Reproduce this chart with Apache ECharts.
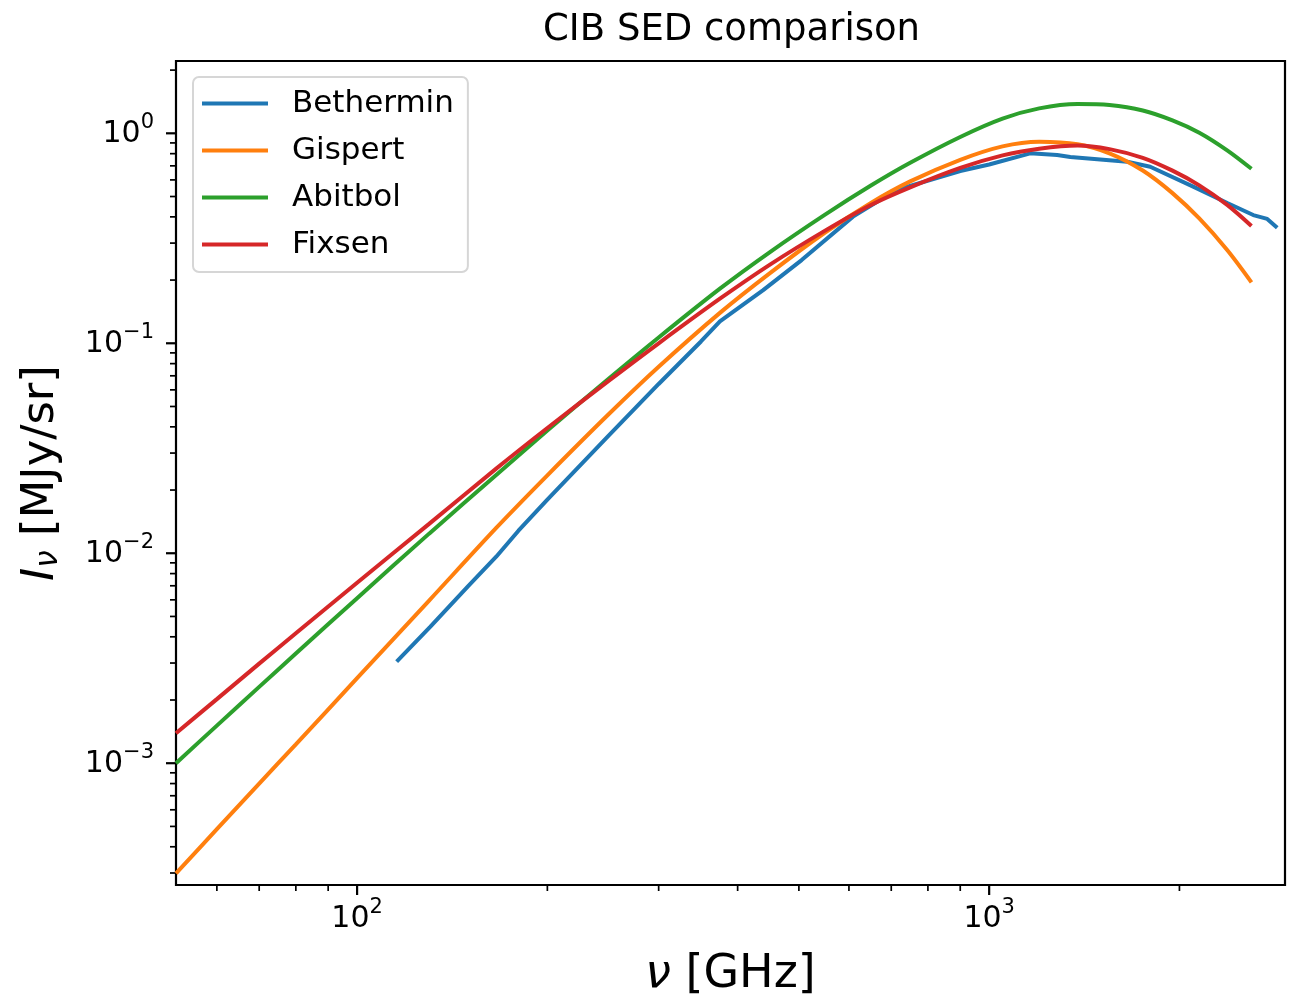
<!DOCTYPE html>
<html>
<head>
<meta charset="utf-8">
<script src="https://cdn.jsdelivr.net/npm/echarts@6/dist/echarts.min.js"></script>
<style>
html, body { margin: 0; padding: 0; background: #fff; }
#sed-chart { width: 1298px; height: 996px; }
</style>
</head>
<body>
<div id="sed-chart"></div>
<script>
//CIB SED comparison

var nuModel = [51.7, 60, 70, 80, 100, 130, 166, 200, 250, 300, 375, 450, 550, 650, 750, 900, 1050, 1200, 1380, 1550, 1750, 1950, 2150, 2380, 2600];
var gispert = [2.99e-4, 4.85e-4, 8.0e-4, 1.23e-3, 2.54e-3, 5.95e-3, 1.32e-2, 2.35e-2, 4.59e-2, 7.73e-2, 0.1396, 0.216, 0.337, 0.466, 0.590, 0.748, 0.867, 0.912, 0.887, 0.803, 0.665, 0.519, 0.393, 0.278, 0.195];
var abitbol = [1.0e-3, 1.51e-3, 2.31e-3, 3.33e-3, 6.11e-3, 1.24e-2, 2.36e-2, 3.84e-2, 6.78e-2, 0.1066, 0.182, 0.272, 0.410, 0.564, 0.724, 0.961, 1.175, 1.315, 1.380, 1.365, 1.285, 1.153, 1.007, 0.830, 0.678];
var fixsen = [1.39e-3, 2.02e-3, 2.98e-3, 4.16e-3, 7.24e-3, 1.38e-2, 2.53e-2, 3.95e-2, 6.62e-2, 0.100, 0.163, 0.237, 0.344, 0.456, 0.553, 0.684, 0.785, 0.845, 0.875, 0.841, 0.764, 0.664, 0.565, 0.456, 0.362];

var nuBethermin = [115.5, 130.5, 150, 166, 180, 200, 250, 300, 350, 375, 439, 505, 609, 713, 900, 1000, 1161, 1281, 1344, 1654, 1798, 2103, 2381, 2617, 2754, 2856];
var bethermin = [3.05e-3, 4.46e-3, 6.99e-3, 9.63e-3, 1.28e-2, 1.80e-2, 3.63e-2, 6.40e-2, 0.102, 0.127, 0.179, 0.249, 0.401, 0.537, 0.661, 0.71, 0.803, 0.788, 0.771, 0.732, 0.693, 0.557, 0.466, 0.408, 0.391, 0.355];

var xMajorTicks = [100, 1000];
var xMinorTicks = [60, 70, 80, 90, 200, 300, 400, 500, 600, 700, 800, 900, 2000];
var yMajorTicks = [1e-3, 1e-2, 1e-1, 1];
var yMinorTicks = [3e-4, 4e-4, 5e-4, 6e-4, 7e-4, 8e-4, 9e-4,
    2e-3, 3e-3, 4e-3, 5e-3, 6e-3, 7e-3, 8e-3, 9e-3,
    2e-2, 3e-2, 4e-2, 5e-2, 6e-2, 7e-2, 8e-2, 9e-2,
    0.2, 0.3, 0.4, 0.5, 0.6, 0.7, 0.8, 0.9, 2];

var xMin = 51.7, xMax = 2938;
var yMin = 2.63e-4, yMax = 2.21;

var font = 'DejaVu Sans';

function zip(xs, ys) {
    var out = [];
    for (var i = 0; i < xs.length; i++) out.push([xs[i], ys[i]]);
    return out;
}

// 10^n labels, only on whole decades
function powerLabel(value) {
    var p = Math.log10(value);
    if (Math.abs(p - Math.round(p)) > 1e-6) return '';
    p = Math.round(p);
    return '{b|10}{s|' + String(p).replace('-', '\u2212') + '}';
}

var labelRich = {
    b: { fontFamily: font, fontSize: 30, color: '#000', lineHeight: 31, verticalAlign: 'bottom' },
    s: { fontFamily: font, fontSize: 21, color: '#000', lineHeight: 21, padding: [0, 0, 16, 0], verticalAlign: 'bottom' }
};

function tickItems(major, minor) {
    var out = [];
    major.forEach(function (v) { out.push([v, 1]); });
    minor.forEach(function (v) { out.push([v, 0]); });
    return out;
}

var sed_chart = echarts.init(document.getElementById('sed-chart'));
var sed_chartOption = {
    backgroundColor: '#fff',
    animation: false,
    color: ['#1f77b4', '#ff7f0e', '#2ca02c', '#d62728'],
    title: {
        text: 'CIB SED comparison',
        left: 543,
        top: 12,
        padding: 0,
        textStyle: { fontFamily: font, fontSize: 37, fontWeight: 'normal', color: '#000' }
    },
    legend: {
        data: ['Bethermin', 'Gispert', 'Abitbol', 'Fixsen'],
        orient: 'vertical',
        left: 193,
        top: 77,
        padding: [11, 14, 12, 9],
        itemGap: 16,
        itemWidth: 66,
        itemHeight: 4,
        icon: 'rect',
        backgroundColor: 'rgba(255,255,255,0.8)',
        borderColor: '#d6d6d6',
        borderWidth: 2,
        borderRadius: 6,
        textStyle: { fontFamily: font, fontSize: 31, color: '#000', padding: [0, 0, 0, 19] }
    },
    grid: {
        left: 176,
        right: 13,
        top: 61,
        bottom: 111,
        show: true,
        borderColor: '#000',
        borderWidth: 2.2,
        containLabel: false,
        outerBoundsMode: 'none'
    },
    xAxis: {
        type: 'log',
        logBase: 10,
        min: xMin,
        max: xMax,
        name: '{nu|\u03bd}{n| [GHz]}',
        nameLocation: 'middle',
        nameGap: 67,
        nameTextStyle: {
            rich: {
                nu: { fontFamily: font, fontSize: 46, fontStyle: 'italic', color: '#000' },
                n: { fontFamily: font, fontSize: 46, color: '#000' }
            }
        },
        axisLine: { show: false },
        axisTick: { show: false },
        splitLine: { show: false },
        axisLabel: {
            margin: 18,
            showMinLabel: false,
            showMaxLabel: false,
            formatter: powerLabel,
            rich: labelRich
        }
    },
    yAxis: {
        type: 'log',
        logBase: 10,
        min: yMin,
        max: yMax,
        name: '{i|I}{sub|\u03bd}{n| [MJy/sr]}',
        nameLocation: 'middle',
        nameGap: 112,
        nameTextStyle: {
            rich: {
                i: { fontFamily: font, fontSize: 45, fontStyle: 'italic', color: '#000', lineHeight: 50, verticalAlign: 'bottom' },
                sub: { fontFamily: font, fontSize: 31, fontStyle: 'italic', color: '#000', lineHeight: 31, verticalAlign: 'bottom' },
                n: { fontFamily: font, fontSize: 45, color: '#000', lineHeight: 50, verticalAlign: 'bottom' }
            }
        },
        axisLine: { show: false },
        axisTick: { show: false },
        splitLine: { show: false },
        axisLabel: {
            margin: 22,
            showMinLabel: false,
            showMaxLabel: false,
            formatter: powerLabel,
            rich: labelRich
        }
    },
    series: [
        {
            name: 'Bethermin',
            type: 'line',
            symbol: 'none',
            lineStyle: { width: 4 },
            data: zip(nuBethermin, bethermin)
        },
        {
            name: 'Gispert',
            type: 'line',
            symbol: 'none',
            smooth: 0.3,
            lineStyle: { width: 4 },
            data: zip(nuModel, gispert)
        },
        {
            name: 'Abitbol',
            type: 'line',
            symbol: 'none',
            smooth: 0.3,
            lineStyle: { width: 4 },
            data: zip(nuModel, abitbol)
        },
        {
            name: 'Fixsen',
            type: 'line',
            symbol: 'none',
            smooth: 0.3,
            lineStyle: { width: 4 },
            data: zip(nuModel, fixsen)
        },
        // tick marks, placed through the axis scales
        {
            name: 'xticks',
            type: 'custom',
            silent: true,
            clip: false,
            data: tickItems(xMajorTicks, xMinorTicks).map(function (t) { return [t[0], yMin, t[1]]; }),
            renderItem: function (params, api) {
                var p = api.coord([api.value(0), yMin]);
                var major = api.value(2) === 1;
                return {
                    type: 'line',
                    shape: { x1: p[0], y1: p[1], x2: p[0], y2: p[1] + (major ? 10 : 6) },
                    style: { stroke: '#000', lineWidth: major ? 2.2 : 1.7 }
                };
            }
        },
        {
            name: 'yticks',
            type: 'custom',
            silent: true,
            clip: false,
            data: tickItems(yMajorTicks, yMinorTicks).map(function (t) { return [xMin, t[0], t[1]]; }),
            renderItem: function (params, api) {
                var p = api.coord([xMin, api.value(1)]);
                var major = api.value(2) === 1;
                return {
                    type: 'line',
                    shape: { x1: p[0], y1: p[1], x2: p[0] - (major ? 10 : 6), y2: p[1] },
                    style: { stroke: '#000', lineWidth: major ? 2.2 : 1.7 }
                };
            }
        }
    ]
};
sed_chart.setOption(sed_chartOption);
</script>
</body>
</html>
